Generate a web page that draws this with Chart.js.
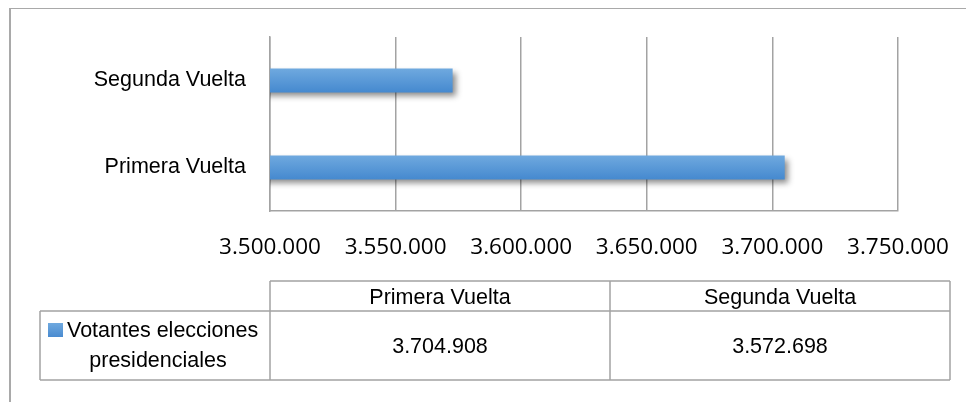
<!DOCTYPE html>
<html><head><meta charset="utf-8">
<script src="https://cdn.jsdelivr.net/npm/chart.js@4/dist/chart.umd.min.js"></script>
<style>html,body{margin:0;padding:0;background:#fff;} #wrap{width:966px;height:402px;position:relative;}</style>
</head><body><div id="wrap"><canvas id="c"></canvas></div>
<script>
const categories = ['Primera Vuelta', 'Segunda Vuelta'];
const votantes = [3704908, 3572698];
const seriesName = 'Votantes elecciones presidenciales';
const xTickValues = [3500000, 3550000, 3600000, 3650000, 3700000, 3750000];

const LABEL_FONT = "'Liberation Sans', Arial, sans-serif";
const LABEL_SIZE = 21.5;
const TICK_FONT = "'Open Sans', sans-serif";
const GRID = '#a3a3a3';
function fmt(v){ return String(Math.round(v)).replace(/\B(?=(\d{3})+(?!\d))/g, '.'); }

function wrap(ctx, text, maxW){
  const words = text.split(' '); const lines = []; let cur = '';
  for (const w of words){
    const t = cur ? cur + ' ' + w : w;
    if (ctx.measureText(t).width > maxW && cur){ lines.push(cur); cur = w; } else cur = t;
  }
  if (cur) lines.push(cur);
  return lines;
}

const barShadow = {
  id: 'barShadow',
  beforeDatasetsDraw(chart){ const c = chart.ctx; c.save(); c.shadowColor = 'rgba(0,0,0,0.45)'; c.shadowBlur = 6; c.shadowOffsetX = 3; c.shadowOffsetY = 4; },
  afterDatasetsDraw(chart){ chart.ctx.restore(); }
};

const frameAndTable = {
  id: 'frameAndTable',
  afterDraw(chart){
    const ctx = chart.ctx; const ca = chart.chartArea;
    ctx.save();
    ctx.fillStyle = '#a9a9a9';
    ctx.fillRect(9, 8, 2, 394);
    ctx.fillRect(9, 8, 957, 1);
    const top = 281, mid = 311, bot = 380, left = 40;
    const c0 = ca.left, c2 = 950, cw = (c2 - c0) / categories.length;
    ctx.strokeStyle = GRID; ctx.lineWidth = 1.5;
    ctx.beginPath();
    ctx.moveTo(c0, top); ctx.lineTo(c2, top);
    ctx.moveTo(left, mid); ctx.lineTo(c2, mid);
    ctx.moveTo(left, bot); ctx.lineTo(c2, bot);
    ctx.moveTo(left, mid); ctx.lineTo(left, bot);
    for (let i = 0; i <= categories.length; i++){ const x = c0 + i * cw; ctx.moveTo(x, top); ctx.lineTo(x, bot); }
    ctx.stroke();
    ctx.fillStyle = '#000';
    ctx.font = LABEL_SIZE + 'px ' + LABEL_FONT;
    ctx.textAlign = 'center'; ctx.textBaseline = 'alphabetic';
    categories.forEach((cat, i) => {
      const cx = c0 + (i + 0.5) * cw;
      ctx.fillText(cat, cx, 304);
      ctx.fillText(fmt(votantes[i]), cx, 353);
    });
    // legend key
    const g = ctx.createLinearGradient(0, 323, 0, 337);
    g.addColorStop(0, '#6fa9df'); g.addColorStop(1, '#4a8bd0');
    ctx.fillStyle = g; ctx.fillRect(48, 323, 15, 14);
    ctx.fillStyle = '#000';
    const lines = wrap(ctx, seriesName, 200);
    ctx.textAlign = 'left';
    ctx.fillText(lines[0], 67, 337);
    ctx.textAlign = 'center';
    for (let k = 1; k < lines.length; k++) ctx.fillText(lines[k], 158, 337 + 30 * k);
    ctx.restore();
  }
};

new Chart(document.getElementById('c'), {
  type: 'bar',
  data: {
    labels: categories,
    datasets: [{
      label: seriesName,
      data: votantes,
      barPercentage: 0.55,
      categoryPercentage: 0.5,
      borderWidth: 0,
      backgroundColor(context){
        const chart = context.chart; const ys = chart.scales && chart.scales.y;
        if (!chart.chartArea || !ys || context.dataIndex === undefined) return '#5b9bd5';
        const yc = ys.getPixelForValue(context.dataIndex);
        const h = (ys.height / categories.length) * 0.275 / 2;
        const gr = chart.ctx.createLinearGradient(0, yc - h, 0, yc + h);
        gr.addColorStop(0, '#6fa9df'); gr.addColorStop(1, '#4589cf');
        return gr;
      }
    }]
  },
  options: {
    indexAxis: 'y',
    responsive: true,
    maintainAspectRatio: false,
    animation: false,
    layout: { padding: { top: 37, right: 68, left: 0, bottom: 0 } },
    plugins: { legend: { display: false }, tooltip: { enabled: false } },
    scales: {
      x: {
        type: 'linear', min: xTickValues[0], max: xTickValues[xTickValues.length - 1],
        afterBuildTicks(s){ s.ticks = xTickValues.map(v => ({ value: v })); },
        afterFit(s){ s.height = 402 - 211; s.paddingLeft = 0; s.paddingRight = 0; },
        grid: { color: GRID, lineWidth: 1.5, drawTicks: false },
        border: { display: true, color: GRID, width: 1.5 },
        ticks: { padding: 23, color: '#000', font: { family: TICK_FONT, size: 22.5 }, callback: v => fmt(v), maxRotation: 0, autoSkip: false }
      },
      y: {
        reverse: true,
        afterFit(s){ s.width = 270; },
        grid: { display: false, drawTicks: false },
        border: { display: true, color: GRID, width: 1.5 },
        ticks: { padding: 24, color: '#000', font: { family: LABEL_FONT, size: LABEL_SIZE } }
      }
    }
  },
  plugins: [barShadow, frameAndTable]
});
</script></body></html>
